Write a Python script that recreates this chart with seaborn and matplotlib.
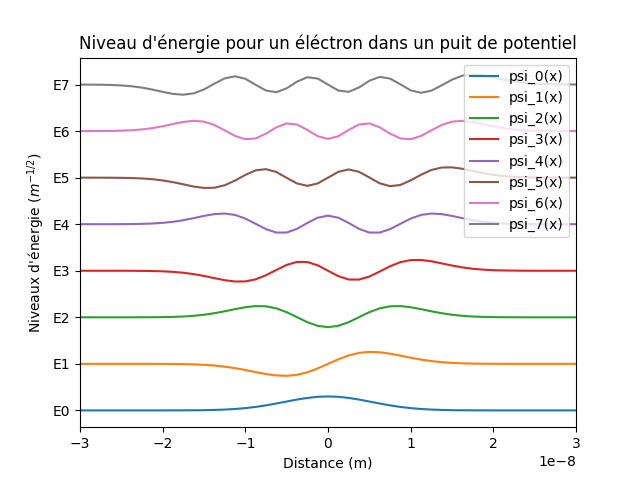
import numpy as np
import pandas as pd
import seaborn as sns
import matplotlib
matplotlib.use("Agg")
import matplotlib.pyplot as plt

# positions in units of 1e-8 m
x_units = [-3.0, -2.875, -2.75, -2.625, -2.5, -2.375, -2.25, -2.125, -2.0, -1.875,
           -1.75, -1.625, -1.5, -1.375, -1.25, -1.125, -1.0, -0.875, -0.75, -0.625,
           -0.5, -0.375, -0.25, -0.125, 0.0, 0.125, 0.25, 0.375, 0.5, 0.625, 0.75,
           0.875, 1.0, 1.125, 1.25, 1.375, 1.5, 1.625, 1.75, 1.875, 2.0, 2.125,
           2.25, 2.375, 2.5, 2.625, 2.75, 2.875, 3.0]

levels = [0, 1, 2, 3, 4, 5, 6, 7]
level_labels = ["E0", "E1", "E2", "E3", "E4", "E5", "E6", "E7"]
series_names = ["psi_0(x)", "psi_1(x)", "psi_2(x)", "psi_3(x)",
                "psi_4(x)", "psi_5(x)", "psi_6(x)", "psi_7(x)"]

psi_0 = [0, 0, 0, 0, 0, 0, 0, 0, 0, .001, .001, .003, .005, .010, .018, .030, .049, .075, .108, .148, .191, .233, .268, .292,
         .300,
         .292, .268, .233, .191, .148, .108, .075, .049, .030, .018, .010, .005, .003, .001, .001, 0, 0, 0, 0, 0, 0, 0, 0, 0]
psi_1 = [0, 0, 0, 0, 0, 0, 0, 0, -.001, -.003, -.005, -.011, -.021, -.036, -.060, -.092, -.132, -.177, -.219, -.249, -.257, -.235, -.181, -.098,
         0,
         .098, .181, .235, .257, .249, .219, .177, .132, .092, .060, .036, .021, .011, .005, .003, .001, 0, 0, 0, 0, 0, 0, 0, 0]
psi_2 = [0, 0, 0, 0, 0, 0, .001, .002, .004, .009, .017, .032, .055, .088, .129, .175, .217, .241, .236, .192, .110, .003, -.104, -.183,
         -.212,
         -.183, -.104, .003, .110, .192, .236, .241, .217, .175, .129, .088, .055, .032, .017, .009, .004, .002, .001, 0, 0, 0, 0, 0, 0]
psi_3 = [0, 0, 0, 0, 0, -.001, -.003, -.006, -.012, -.024, -.043, -.072, -.112, -.158, -.203, -.231, -.229, -.184, -.096, .017, .125, .190, .188, .116,
         0,
         -.116, -.188, -.190, -.125, -.017, .096, .184, .229, .231, .203, .158, .112, .072, .043, .024, .012, .006, .003, .001, 0, 0, 0, 0, 0]
psi_4 = [0, 0, 0, 0, .001, .003, .007, .015, .029, .052, .086, .130, .178, .217, .229, .199, .121, .008, -.107, -.180, -.179, -.099, .027, .139,
         .184,
         .139, .027, -.099, -.179, -.180, -.107, .008, .121, .199, .229, .217, .178, .130, .086, .052, .029, .015, .007, .003, .001, 0, 0, 0, 0]
psi_5 = [0, 0, -.001, -.002, -.004, -.008, -.017, -.033, -.060, -.097, -.143, -.191, -.221, -.217, -.164, -.062, .059, .157, .183, .121, -.004, -.125, -.176, -.125,
         0,
         .125, .176, .125, .004, -.121, -.183, -.157, -.059, .062, .164, .217, .221, .191, .143, .097, .060, .033, .017, .008, .004, .002, .001, 0, 0]
psi_6 = [0, .001, .002, .004, .009, .018, .036, .064, .104, .152, .197, .221, .203, .131, .016, -.104, -.175, -.158, -.053, .082, .165, .142, .024, -.110,
         -.168,
         -.110, .024, .142, .165, .082, -.053, -.158, -.175, -.104, .016, .131, .203, .221, .197, .152, .104, .064, .036, .018, .009, .004, .002, .001, 0]
psi_7 = [-.001, -.002, -.004, -.009, -.019, -.037, -.066, -.108, -.157, -.201, -.218, -.190, -.105, .018, .132, .177, .124, -.005, -.129, -.164, -.081, .062, .157, .129,
         0,
         -.129, -.157, -.062, .081, .164, .129, .005, -.124, -.177, -.132, -.018, .105, .190, .218, .201, .157, .108, .066, .037, .019, .009, .004, .002, .001]

all_psi = [psi_0, psi_1, psi_2, psi_3, psi_4, psi_5, psi_6, psi_7]

rows = []
for name, lvl, psi in zip(series_names, levels, all_psi):
    for xv, pv in zip(x_units, psi):
        rows.append({"x": xv * 1e-8, "y": lvl + pv, "serie": name})
df = pd.DataFrame(rows)

fig, ax = plt.subplots(figsize=(6.4, 4.8), dpi=100)
sns.lineplot(data=df, x="x", y="y", hue="serie", palette="tab10",
             ax=ax, sort=False, estimator=None)
ax.set_xlim(-3e-8, 3e-8)
ax.set_yticks(levels)
ax.set_yticklabels(level_labels)
ax.set_xlabel("Distance (m)")
ax.set_ylabel("Niveaux d'énergie ($m^{-1/2}$)")
ax.set_title("Niveau d'énergie pour un éléctron dans un puit de potentiel")
ax.legend(loc="upper right", title=None)
fig.savefig("out.png", dpi=100)
